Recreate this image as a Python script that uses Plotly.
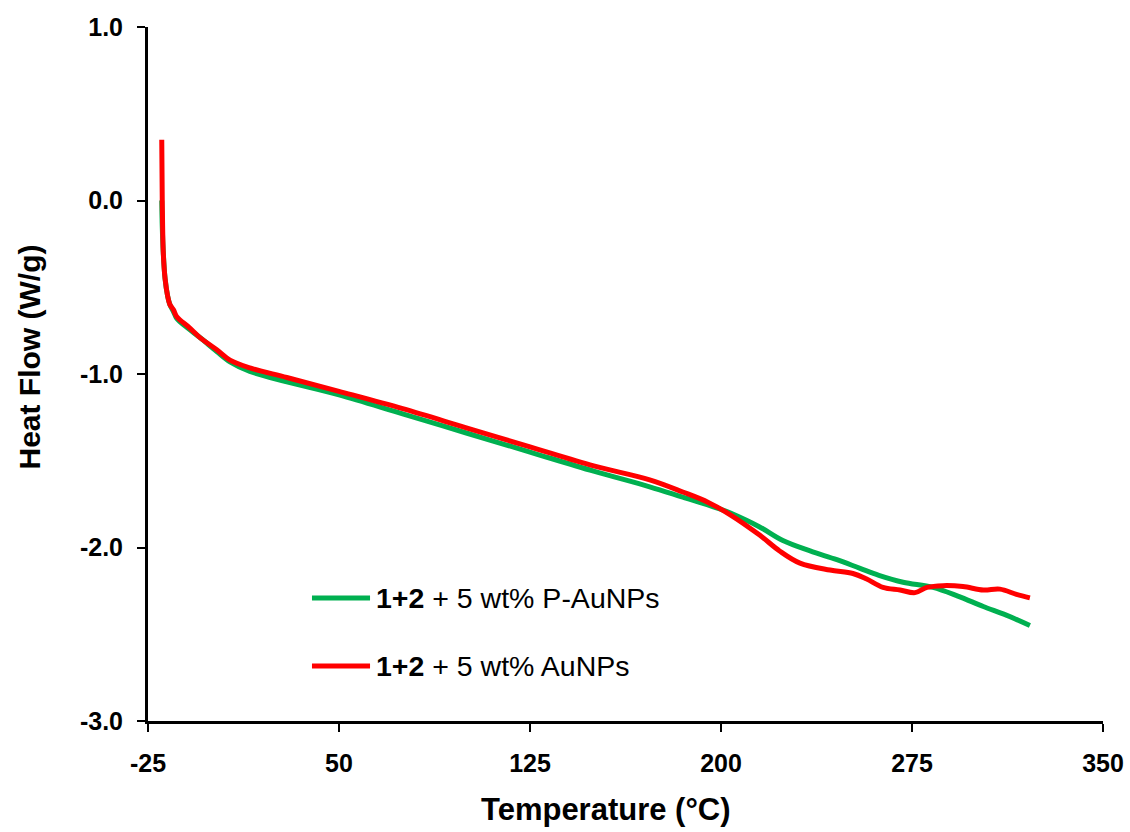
import plotly.graph_objects as go

# P-AuNPs (green)
green_x = [-19.6, -19.4, -19.0, -18.3, -17.3, -16.4, -15.0, -13.7, -9.0, -4.6, 2.0, 7.2, 15.0, 29.5,
           50, 75, 100, 125, 150, 172, 185, 200, 203.5, 215, 224.3, 235, 245.5, 254.6, 262,
           271.5, 283.2, 293, 303, 312, 321.3]
green_y = [0.0, -0.15, -0.30, -0.45, -0.55, -0.60, -0.64, -0.68, -0.74, -0.79, -0.87, -0.93, -0.985, -1.045,
           -1.12, -1.23, -1.34, -1.45, -1.56, -1.65, -1.71, -1.78, -1.80, -1.88, -1.96, -2.02, -2.07, -2.12, -2.16,
           -2.20, -2.23, -2.28, -2.34, -2.39, -2.45]

# AuNPs (red)
red_x = [-19.6, -19.4, -19.0, -18.3, -17.3, -16.4, -15.0, -13.7, -9.0, -4.6, 2.0, 7.2, 15.0, 29.5,
         50, 75, 100, 125, 150, 172, 185, 195, 203.5, 215.3, 223, 231, 242.8, 251.8, 257, 263.6,
         270.3, 276.2, 280.9, 287.2, 295, 303, 309.5, 316, 321.3]
red_y = [0.35, 0.0, -0.30, -0.45, -0.55, -0.60, -0.63, -0.67, -0.73, -0.79, -0.86, -0.92, -0.965, -1.02,
         -1.10, -1.20, -1.31, -1.42, -1.53, -1.61, -1.68, -1.74, -1.81, -1.93, -2.02, -2.09, -2.13, -2.15, -2.18,
         -2.23, -2.245, -2.26, -2.23, -2.22, -2.225, -2.245, -2.24, -2.27, -2.29]

series_names = ["<b>1+2</b> + 5 wt% P-AuNPs", "<b>1+2</b> + 5 wt% AuNPs"]
series_colors = ["#00B050", "#FF0000"]

x_ticks = [-25, 50, 125, 200, 275, 350]
y_ticks = [-3.0, -2.0, -1.0, 0.0, 1.0]
x_title = "<b>Temperature (°C)</b>"
y_title = "<b>Heat Flow (W/g)</b>"

FONT = "Arial, Liberation Sans, sans-serif"

fig = go.Figure()
for xs, ys, nm, col in [(green_x, green_y, series_names[0], series_colors[0]),
                        (red_x, red_y, series_names[1], series_colors[1])]:
    fig.add_trace(go.Scatter(x=xs, y=ys, mode="lines", line=dict(color=col, width=5, shape="spline"),
                             name=nm, showlegend=False, hoverinfo="skip"))

# legend drawn in paper coordinates (key lines + labels)
legend_rows = [0.1772, 0.0793]
for yy, nm, col in zip(legend_rows, series_names, series_colors):
    fig.add_shape(type="line", xref="paper", yref="paper", x0=0.1717, x1=0.2325, y0=yy, y1=yy,
                  line=dict(color=col, width=5))
    fig.add_annotation(xref="paper", yref="paper", x=0.2366, y=yy, xanchor="left", yanchor="middle",
                       text=nm, showarrow=False, font=dict(size=28.5, family=FONT, color="black"))

# axis titles
fig.add_annotation(xref="paper", yref="paper", x=0.4796, y=-0.1275, xanchor="center", yanchor="middle",
                   text=x_title, showarrow=False, font=dict(size=31, family=FONT, color="black"))
fig.add_annotation(xref="paper", yref="paper", x=-0.1246, y=0.5238, xanchor="center", yanchor="middle",
                   text=y_title, textangle=-90, showarrow=False, font=dict(size=30, family=FONT, color="black"))

fig.update_layout(
    width=1130, height=832,
    margin=dict(l=148, r=27, t=27, b=111, autoexpand=False),
    paper_bgcolor="white", plot_bgcolor="white",
    font=dict(family=FONT, color="black"),
    showlegend=False,
    xaxis=dict(range=[-25, 350], tickvals=x_ticks, ticktext=["<b>%d</b>" % v for v in x_ticks],
               showline=True, linecolor="black", linewidth=3, ticks="outside", ticklen=8, tickwidth=2,
               tickcolor="black", showgrid=False, zeroline=False, ticklabelstandoff=10, automargin=False,
               tickfont=dict(size=25, family=FONT)),
    yaxis=dict(range=[-3, 1], tickvals=y_ticks, ticktext=["<b>%.1f</b>" % v for v in y_ticks],
               showline=True, linecolor="black", linewidth=3, ticks="outside", ticklen=8, tickwidth=2,
               tickcolor="black", showgrid=False, zeroline=False, ticklabelstandoff=9, automargin=False,
               tickfont=dict(size=25, family=FONT)),
)

fig.write_html("out.html", config={"displayModeBar": False},
               post_script="document.body.style.margin='0px';")
